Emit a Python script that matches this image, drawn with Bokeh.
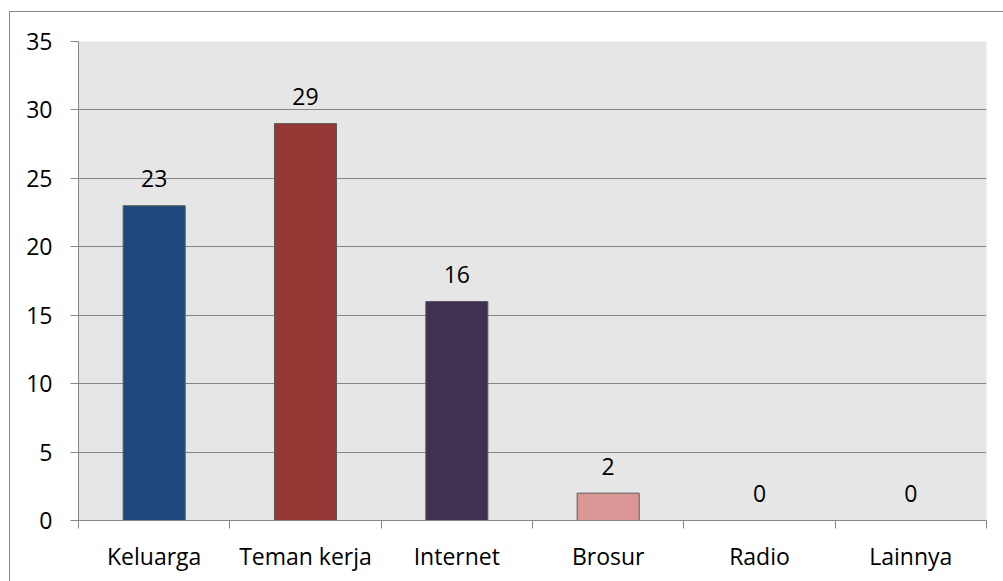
from bokeh.plotting import figure
from bokeh.models import Range1d, FixedTicker, ColumnDataSource
from bokeh.core.properties import value
from bokeh.embed import file_html
from bokeh.resources import INLINE

# Sources of information reported by respondents
categories = ["Keluarga", "Teman kerja", "Internet", "Brosur", "Radio", "Lainnya"]
counts = [23, 29, 16, 2, 0, 0]
bar_colors = ["#1F497D", "#953735", "#403152", "#D99694", "#4BACC6", "#F79646"]
y_ticks = [0, 5, 10, 15, 20, 25, 30, 35]

FONT = "Open Sans"
FONT_SIZE = "23px"
GRID = "#868686"

centers = [i + 0.5 for i in range(len(categories))]
bounds = list(range(len(categories) + 1))

src = ColumnDataSource(dict(
    x=centers,
    top=counts,
    color=bar_colors,
    label=[str(c) for c in counts],
))

p = figure(
    width=994, height=570,
    x_range=Range1d(0, len(categories)),
    y_range=Range1d(0, 35),
    output_backend="svg", toolbar_location=None,
    min_border_left=68, min_border_right=18,
    min_border_top=29, min_border_bottom=62,
    background_fill_color="#E6E6E6",
    border_fill_color="white",
    outline_line_color=None,
)
p.margin = (11, 0, 0, 9)
p.styles = {"border-left": "1px solid #868686", "border-top": "1px solid #868686"}

p.vbar(x="x", top="top", bottom=0, width=0.41, source=src,
       fill_color="color", line_color="#5A5A5A", line_width=1)

p.text(x="x", y="top", text="label", source=src,
       text_font=value(FONT), text_font_size=FONT_SIZE, text_color="black",
       text_align="center", text_baseline="alphabetic", y_offset=-27)

# y axis and horizontal grid
p.yaxis.ticker = FixedTicker(ticks=y_ticks)
p.ygrid.ticker = FixedTicker(ticks=y_ticks)
p.ygrid.grid_line_color = GRID
p.ygrid.grid_line_width = 1
p.xgrid.visible = False
p.yaxis.axis_line_color = GRID
p.yaxis.major_tick_line_color = GRID
p.yaxis.major_tick_out = 8
p.yaxis.major_tick_in = 0
p.yaxis.minor_tick_line_color = None
p.yaxis.major_label_text_font = FONT
p.yaxis.major_label_text_font_size = FONT_SIZE
p.yaxis.major_label_text_color = "black"
p.yaxis.major_label_standoff = 18

# x axis: labels at bar centers, tick marks on category boundaries
p.xaxis.ticker = FixedTicker(ticks=centers, minor_ticks=bounds)
p.xaxis.major_label_overrides = {c: name for c, name in zip(centers, categories)}
p.xaxis.axis_line_color = GRID
p.xaxis.major_tick_line_color = None
p.xaxis.major_tick_out = 0
p.xaxis.major_tick_in = 0
p.xaxis.minor_tick_line_color = GRID
p.xaxis.minor_tick_out = 8
p.xaxis.minor_tick_in = 0
p.xaxis.major_label_text_font = FONT
p.xaxis.major_label_text_font_size = FONT_SIZE
p.xaxis.major_label_text_color = "black"
p.xaxis.major_label_standoff = 11

open("out.html", "w").write(file_html(p, INLINE))
